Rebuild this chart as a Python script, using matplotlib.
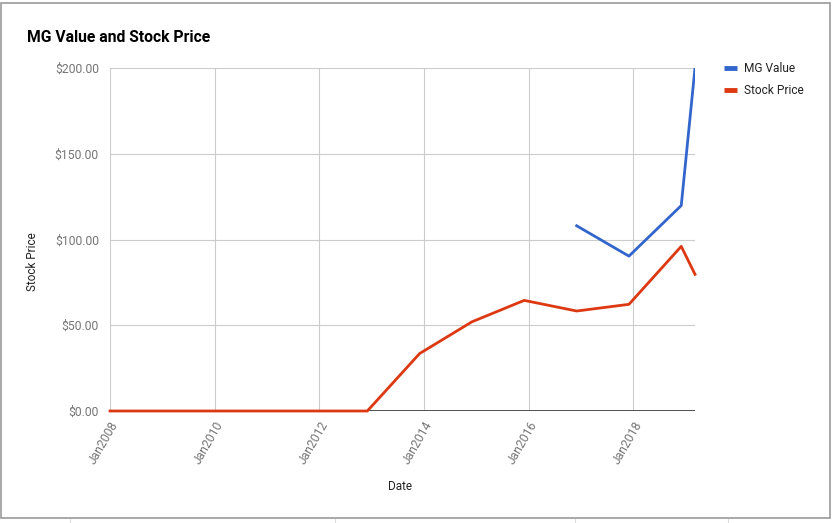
import matplotlib
matplotlib.use("Agg")
import matplotlib.pyplot as plt
import pandas as pd
from matplotlib.lines import Line2D
from matplotlib.patches import Rectangle

plt.rcParams['font.family'] = ['Roboto', 'DejaVu Sans']

# datos
fechas_precio = ['2008-01-01', '2009-01-01', '2010-01-01', '2011-01-01', '2012-01-01',
                 '2012-12-01', '2013-12-01', '2014-12-01', '2015-12-01', '2016-12-01',
                 '2017-12-01', '2018-12-01', '2019-03-07']
precio = [0, 0, 0, 0, 0, 0, 33.5, 52.0, 64.5, 58.3, 62.2, 96.0, 79.7]

fechas_mg = ['2016-12-01', '2017-12-01', '2018-12-01', '2019-03-07']
mg_valor = [108.0, 90.3, 119.8, 200.0]

ticks_x = ['2008-01-01', '2010-01-01', '2012-01-01', '2014-01-01', '2016-01-01', '2018-01-01']
etiquetas_x = ['Jan2008', 'Jan2010', 'Jan2012', 'Jan2014', 'Jan2016', 'Jan2018']
ticks_y = [0, 50, 100, 150, 200]

fp = pd.to_datetime(fechas_precio)
fm = pd.to_datetime(fechas_mg)

fig = plt.figure(figsize=(8.33, 5.23), dpi=100)
ax = fig.add_axes([110 / 833, 1 - 411 / 523, 585 / 833, 343 / 523])

ax.plot(fm, mg_valor, color='#3366cc', lw=2, label='MG Value', clip_on=True)
ax.plot(fp, precio, color='#dc3912', lw=2, label='Stock Price', zorder=4, clip_on=False)
ax.axhline(0, color='#333333', lw=1.2, zorder=3)

ax.set_xlim(pd.Timestamp('2008-01-01'), pd.Timestamp('2019-03-07'))
ax.set_ylim(0, 200)
ax.set_xticks(pd.to_datetime(ticks_x))
ax.set_xticklabels(etiquetas_x, rotation=60, ha='right', va='top', rotation_mode='anchor')
ax.set_yticks(ticks_y)
ax.set_yticklabels(['${:.2f}'.format(v) for v in ticks_y])
ax.tick_params(length=0, labelsize=8.7, colors='#444444', labelcolor='#757575')
ax.tick_params(axis='x', pad=6)
ax.tick_params(axis='y', pad=8)
ax.grid(True, color='#cccccc', lw=0.8)
ax.set_axisbelow(True)
for s in ax.spines.values():
    s.set_visible(False)

fig.text(33 / 833, 1 - 262 / 523, 'Stock Price', rotation=90, ha='center', va='center',
         fontsize=8.5, color='#222222')
fig.text(400 / 833, 1 - 486 / 523, 'Date', ha='center', va='center', fontsize=8.5, color='#222222')
fig.text(27 / 833, 1 - 38 / 523, 'MG Value and Stock Price', ha='left', va='center',
         fontsize=11.3, fontweight='bold', color='#000000')

# leyenda manual
for i, (nombre, color) in enumerate([('MG Value', '#3366cc'), ('Stock Price', '#dc3912')]):
    y = 1 - (68 + i * 22) / 523
    fig.add_artist(Line2D([724 / 833, 737 / 833], [y, y], color=color, lw=3.5, solid_capstyle='butt'))
    fig.text(744 / 833, y, nombre, ha='left', va='center', fontsize=8.6, color='#222222')

# marco
fig.add_artist(Rectangle((1 / 833, 1 - 518 / 523), 829 / 833, 515 / 523, transform=fig.transFigure,
                         fill=False, edgecolor='#9a9a9a', lw=1.2))
for xb in [70, 335, 575, 728]:
    fig.add_artist(Line2D([xb / 833, xb / 833], [0, 4 / 523], color='#dddddd', lw=0.8))

fig.savefig('out.png', dpi=100)
